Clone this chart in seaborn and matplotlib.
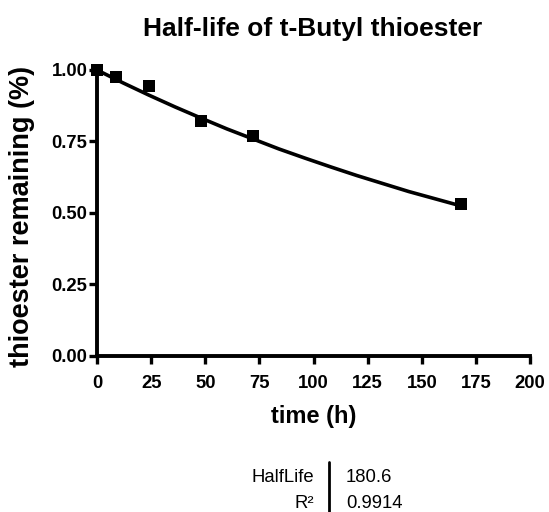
import numpy as np
import pandas as pd
import seaborn as sns
import matplotlib.pyplot as plt

# measured points
time_h = [0, 9, 24, 48, 72, 168]
remaining = [1.00, 0.975, 0.945, 0.82, 0.77, 0.53]

# fitted one-phase decay curve
fit_t = [0, 12, 24, 36, 48, 60, 72, 84, 96, 108, 120, 132, 144, 156, 168]
fit_y = [1.000, 0.955, 0.912, 0.871, 0.832, 0.794, 0.759, 0.724, 0.692,
         0.661, 0.631, 0.603, 0.575, 0.550, 0.525]

xticks = [0, 25, 50, 75, 100, 125, 150, 175, 200]
yticks = [0.00, 0.25, 0.50, 0.75, 1.00]
stat_names = ['HalfLife', 'R²']
stat_values = ['180.6', '0.9914']

sns.set_style('ticks')
plt.rcParams['font.family'] = ['Liberation Sans', 'DejaVu Sans']
plt.rcParams['text.color'] = 'black'

df_pts = pd.DataFrame({'t': time_h, 'y': remaining})
df_fit = pd.DataFrame({'t': fit_t, 'y': fit_y})

fig = plt.figure(figsize=(5.49, 5.12), dpi=100)
ax = fig.add_axes([0.1767, 0.3047, 0.7887, 0.5586])

sns.lineplot(data=df_fit, x='t', y='y', color='black', linewidth=2.6, ax=ax)
sns.scatterplot(data=df_pts, x='t', y='y', marker='s', s=80, color='black',
                edgecolor='black', linewidth=0, ax=ax, clip_on=False, zorder=5)

ax.set_xlim(0, 200)
ax.set_ylim(0, 1)
ax.set_xticks(xticks)
ax.set_xticklabels([str(v) for v in xticks])
ax.set_yticks(yticks)
ax.set_yticklabels(['%.2f' % v for v in yticks])
for lab in ax.get_xticklabels() + ax.get_yticklabels():
    lab.set_fontsize(13.3)
    lab.set_fontweight('bold')
    lab.set_color('black')
ax.tick_params(width=2.4, length=6, colors='black')
ax.tick_params(axis='x', pad=8)
ax.tick_params(axis='y', pad=1)
for s in ['left', 'bottom']:
    ax.spines[s].set_linewidth(2.8)
    ax.spines[s].set_color('black')
sns.despine(ax=ax)
ax.set_xlabel('')
ax.set_ylabel('')

fig.text(0.571, 1 - 423 / 512, 'time (h)', ha='center', va='baseline',
         fontsize=17, fontweight='bold')
fig.text(22 / 549, 1 - 216 / 512, 'thioester remaining (%)', ha='center', va='center',
         rotation=90, fontsize=19.5, fontweight='bold')
fig.text(0.569, 1 - 36 / 512, 'Half-life of t-Butyl thioester', ha='center', va='baseline',
         fontsize=19, fontweight='bold')

# fit results table
for i, (n, v) in enumerate(zip(stat_names, stat_values)):
    yy = 1 - (482 + i * 26) / 512
    fig.text(314 / 549, yy, n, ha='right', va='baseline', fontsize=13.3)
    fig.text(346 / 549, yy, v, ha='left', va='baseline', fontsize=13.3)
fig.add_artist(plt.Line2D([329 / 549, 329 / 549], [0.0, 1 - 462 / 512],
                          color='black', linewidth=2))

fig.savefig('out.png', dpi=100)
